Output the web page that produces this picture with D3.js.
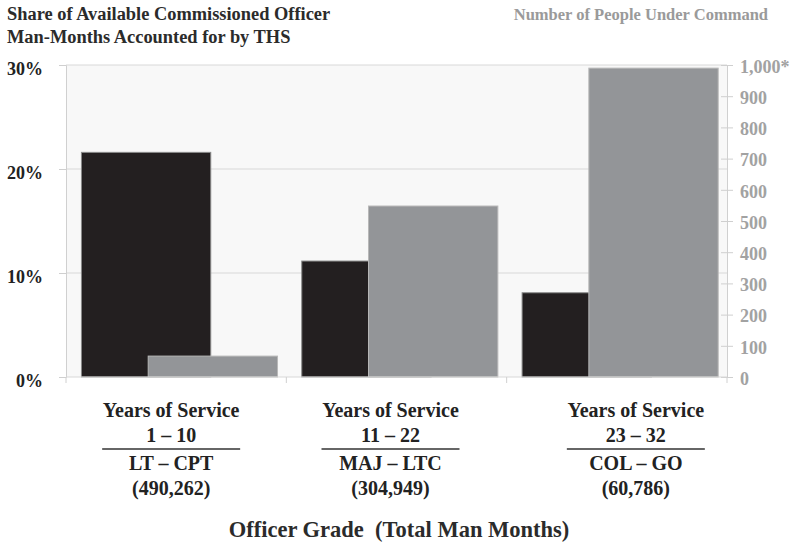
<!DOCTYPE html>
<html>
<head>
<meta charset="utf-8">
<script src="https://cdn.jsdelivr.net/npm/d3@7"></script>
<style>
  body { margin: 0; background: #fff; }
  text { font-family: "Liberation Serif", "Times New Roman", serif; font-weight: bold; }
</style>
</head>
<body>
<svg id="chart" width="796" height="547"></svg>
<script>
// data
const grades = ['LT – CPT', 'MAJ – LTC', 'COL – GO'];
const yearsOfService = ['1 – 10', '11 – 22', '23 – 32'];
const manMonths = ['(490,262)', '(304,949)', '(60,786)'];
const thsShare = [0.216, 0.1115, 0.081];
const peopleUnderCommand = [67, 548, 990];
const shareTicks = [0, 0.1, 0.2, 0.3];
const peopleTicks = [0, 100, 200, 300, 400, 500, 600, 700, 800, 900, 1000];

const svg = d3.select('#chart');
const margin = { top: 65, right: 69, bottom: 170, left: 66 };
const width = 796 - margin.left - margin.right;
const height = 547 - margin.top - margin.bottom;

const g = svg.append('g')
  .attr('transform', 'translate(' + margin.left + ',' + margin.top + ')');

const x = d3.scaleBand().domain(grades).range([0, width]);
const yLeft = d3.scaleLinear().domain([0, 0.3]).range([height, 0]);
const yRight = d3.scaleLinear().domain([0, 1000]).range([height, 0]);

// plot background
g.append('rect')
  .attr('width', width)
  .attr('height', height)
  .attr('fill', '#f8f8f8');

// horizontal gridlines
g.selectAll('.grid')
  .data(shareTicks.filter(d => d > 0))
  .enter()
  .append('line')
  .attr('x1', 0)
  .attr('x2', width)
  .attr('y1', d => yLeft(d))
  .attr('y2', d => yLeft(d))
  .attr('stroke', '#d8d8d8')
  .attr('stroke-width', 1);

// bars: black first, grey drawn over it
const bw = x.bandwidth();
g.selectAll('.share')
  .data(thsShare)
  .enter()
  .append('rect')
  .attr('x', (d, i) => x(grades[i]) + bw * 0.07)
  .attr('y', d => yLeft(d))
  .attr('width', bw * 0.587)
  .attr('height', d => height - yLeft(d))
  .attr('fill', '#231f20')
  .attr('stroke', '#8a8a8a')
  .attr('stroke-width', 1);

g.selectAll('.people')
  .data(peopleUnderCommand)
  .enter()
  .append('rect')
  .attr('x', (d, i) => x(grades[i]) + bw * 0.373)
  .attr('y', d => yRight(d))
  .attr('width', bw * 0.587)
  .attr('height', d => height - yRight(d))
  .attr('fill', '#939598')
  .attr('stroke', '#b8b8b8')
  .attr('stroke-width', 1);

// left axis
const leftAxis = g.append('g')
  .call(d3.axisLeft(yLeft).tickValues(shareTicks).tickSize(7).tickFormat(d3.format('.0%')));
leftAxis.select('.domain').attr('stroke', '#d0d0d0');
leftAxis.selectAll('.tick line').attr('stroke', '#cfcfcf');
leftAxis.selectAll('.tick text')
  .attr('x', -23)
  .attr('dy', '0.55em')
  .attr('fill', '#222')
  .style('font-size', '18px');

// right axis
const rightAxis = g.append('g')
  .attr('transform', 'translate(' + width + ',0)')
  .call(d3.axisRight(yRight).tickValues(peopleTicks).tickSize(6)
    .tickFormat(d => d === 1000 ? '1,000*' : d3.format(',')(d)));
rightAxis.select('.domain').attr('stroke', '#d0d0d0');
rightAxis.selectAll('.tick line').attr('x1', -6).attr('stroke', '#cfcfcf');
rightAxis.selectAll('.tick text')
  .attr('x', 13)
  .attr('dy', '0.4em')
  .attr('fill', '#a2a2a2')
  .style('font-size', '18px');

// bottom axis with separators between categories
g.append('line')
  .attr('x1', 0).attr('x2', width)
  .attr('y1', height).attr('y2', height)
  .attr('stroke', '#d8d8d8');
g.selectAll('.sep')
  .data([0, 1, 2, 3])
  .enter()
  .append('line')
  .attr('x1', i => i * bw).attr('x2', i => i * bw)
  .attr('y1', height).attr('y2', height + 6)
  .attr('stroke', '#d0d0d0');

// category labels
const labelShift = [-5, -6, 19];
const cat = g.selectAll('.cat')
  .data(grades)
  .enter()
  .append('g')
  .attr('transform', (d, i) => 'translate(' + (x(d) + bw / 2 + labelShift[i]) + ',' + height + ')');

cat.append('text').attr('y', 40).attr('text-anchor', 'middle')
  .style('font-size', '20px').attr('fill', '#222').text('Years of Service');
cat.append('text').attr('y', 65).attr('text-anchor', 'middle')
  .style('font-size', '20px').attr('fill', '#222').text((d, i) => yearsOfService[i]);
cat.append('line').attr('x1', -69).attr('x2', 69).attr('y1', 72).attr('y2', 72)
  .attr('stroke', '#333').attr('stroke-width', 1.5);
cat.append('text').attr('y', 93).attr('text-anchor', 'middle')
  .style('font-size', '20px').attr('fill', '#222').text(d => d);
cat.append('text').attr('y', 118).attr('text-anchor', 'middle')
  .style('font-size', '20px').attr('fill', '#222').text((d, i) => manMonths[i]);

// titles
svg.append('text').attr('x', 7).attr('y', 20)
  .style('font-size', '18.4px').attr('fill', '#2b2b2b')
  .text('Share of Available Commissioned Officer');
svg.append('text').attr('x', 7).attr('y', 43)
  .style('font-size', '18.4px').attr('fill', '#2b2b2b')
  .text('Man-Months Accounted for by THS');
svg.append('text').attr('x', 768).attr('y', 20).attr('text-anchor', 'end')
  .style('font-size', '16.5px').attr('fill', '#9a9a9a')
  .text('Number of People Under Command');
svg.append('text').attr('x', 399).attr('y', 537).attr('text-anchor', 'middle')
  .attr('xml:space', 'preserve').style('white-space', 'pre')
  .style('font-size', '22.5px').attr('fill', '#2b2b2b')
  .text('Officer Grade  (Total Man Months)');
</script>
</body>
</html>
